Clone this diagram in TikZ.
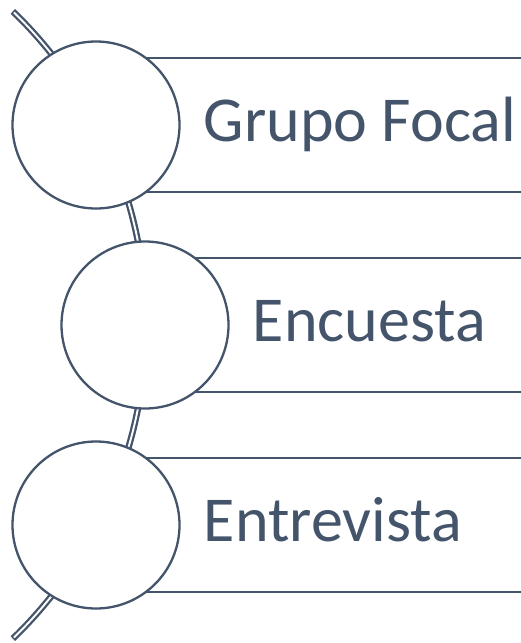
\documentclass[tikz,border=0pt]{standalone}
\usepackage{fontspec}
\setmainfont{Carlito}
\usetikzlibrary{positioning}
\definecolor{pizarra}{HTML}{44546A}
\tikzset{
	circulo/.style={circle,draw=pizarra,line width=2.3pt,fill=white,minimum size=167pt,inner sep=0pt},
	renglon/.style={draw=pizarra,line width=2.6pt},
	rotulo/.style={text=pizarra,font=\fontsize{64}{72}\selectfont,inner sep=0pt},
}
\begin{document}
\begin{tikzpicture}[x=1pt,y=1pt]
	\useasboundingbox (0,0) rectangle (521,-643);
	\draw[pizarra,line width=6.5pt] (-290,-325) ++(46:436) arc[start angle=46,end angle=-46,radius=436];		% arco
	\draw[white,line width=1.9pt] (-290,-325) ++(45.8:436) arc[start angle=45.8,end angle=-45.8,radius=436];
	\foreach \i/\x/\y/\txt in {1/96/125/Grupo Focal,2/145/325/Encuesta,3/96/525/Entrevista} {
		\draw[renglon] (\x,-\y+67) -- (521,-\y+67);				% linea superior
		\draw[renglon] (\x,-\y-67) -- (521,-\y-67);				% linea inferior
		\node[circulo] (c\i) at (\x,-\y) {};
		\node[rotulo,base right=23pt of c\i,yshift=-16pt] (t\i) {\txt};
	}
\end{tikzpicture}
\end{document}
